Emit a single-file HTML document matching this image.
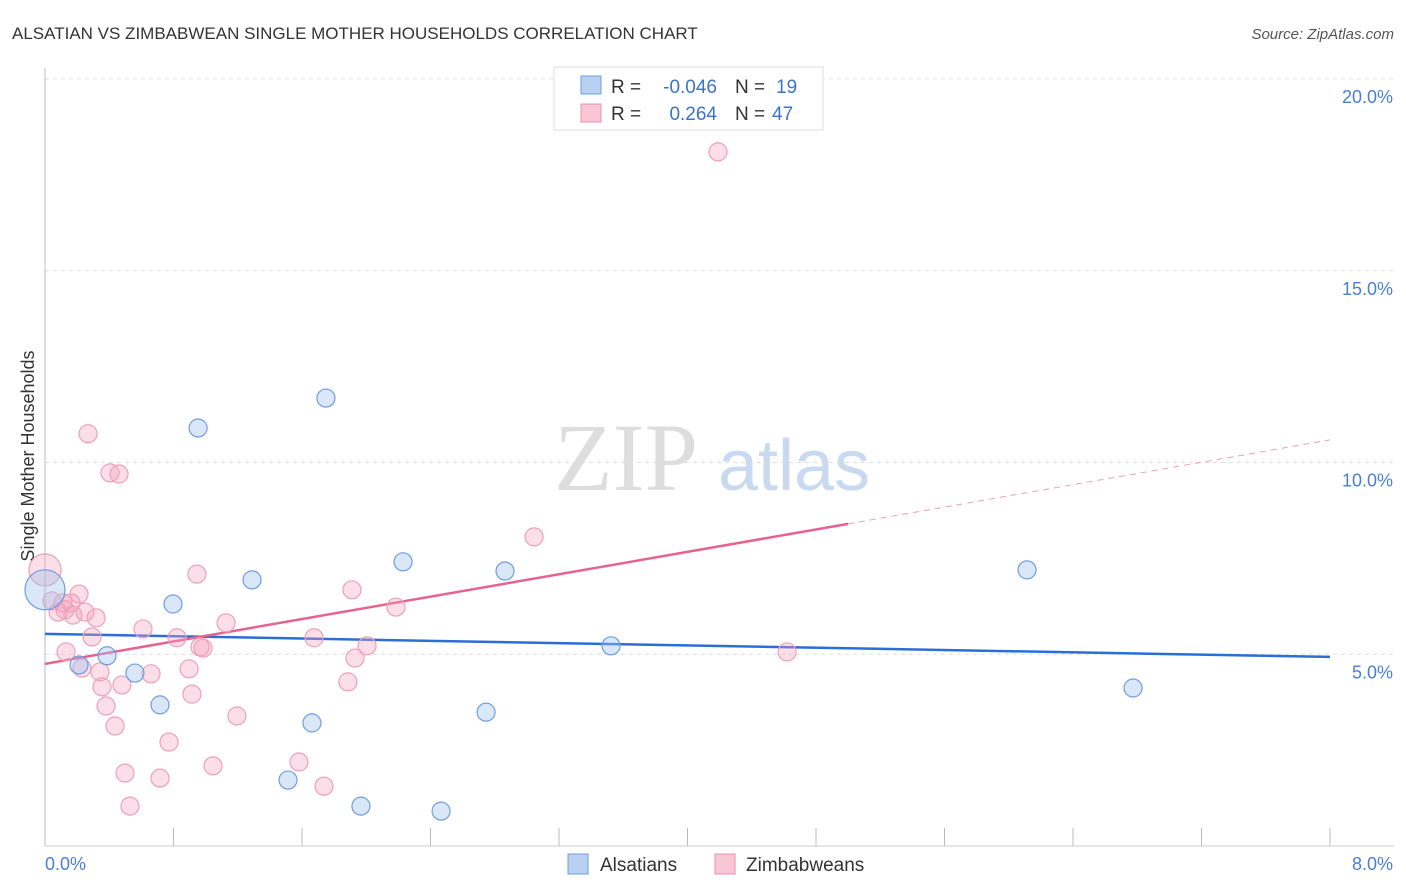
<!DOCTYPE html>
<html><head><meta charset="utf-8"><style>
body{margin:0;background:#fff;font-family:"Liberation Sans",sans-serif}
svg{display:block}
</style></head><body>
<svg width="1406" height="892" xmlns="http://www.w3.org/2000/svg">
<text x="12" y="39" font-size="17" fill="#333">ALSATIAN VS ZIMBABWEAN SINGLE MOTHER HOUSEHOLDS CORRELATION CHART</text>
<text x="1394" y="39" font-size="15" fill="#555" text-anchor="end" font-style="italic">Source: ZipAtlas.com</text>
<text x="554" y="490" font-size="96" fill="#ddd" font-family="Liberation Serif,serif">ZIP</text>
<text x="718" y="490" font-size="72" fill="#c9daf0">atlas</text>
<g id="grid"></g>
<g id="axes"></g>
<text transform="translate(34,456) rotate(-90)" font-size="18" fill="#333" text-anchor="middle">Single Mother Households</text>
<g id="lines"></g>
<g id="pts"></g>
<g>
<rect x="554" y="67" width="269" height="63" fill="#fff" stroke="#ddd"/>
<rect x="581" y="76" width="20" height="18" fill="#b8d0f2" stroke="#6f9de0"/>
<rect x="581" y="104" width="20" height="18" fill="#f9c6d5" stroke="#e891ad"/>
<text x="611" y="93" font-size="19" fill="#333">R =</text>
<text x="717" y="93" font-size="19" fill="#3a73cc" text-anchor="end">-0.046</text>
<text x="735" y="93" font-size="19" fill="#333">N =</text>
<text x="776" y="93" font-size="19" fill="#3a73cc">19</text>
<text x="611" y="120" font-size="19" fill="#333">R =</text>
<text x="717" y="120" font-size="19" fill="#3a73cc" text-anchor="end">0.264</text>
<text x="735" y="120" font-size="19" fill="#333">N =</text>
<text x="772" y="120" font-size="19" fill="#3a73cc">47</text>
</g>
<g>
<rect x="568" y="854" width="20" height="20" fill="#b8d0f2" stroke="#6f9de0"/>
<text x="600" y="871" font-size="19" fill="#333">Alsatians</text>
<rect x="715" y="854" width="20" height="20" fill="#f9c6d5" stroke="#e891ad"/>
<text x="746" y="871" font-size="19" fill="#333">Zimbabweans</text>
</g>
</svg>
<script>
const yTicks=[5,10,15,20];
const yTickLabels=["5.0%","10.0%","15.0%","20.0%"];
const blueX=[0,0.386,0.560,0.716,0.797,0.953,1.289,1.513,1.662,1.749,1.967,2.229,2.466,2.746,2.864,3.524,6.114,6.774,0.212];
const blueY=[6.68,4.96,4.51,3.68,6.31,10.90,6.94,1.72,3.21,11.68,1.04,7.41,0.91,3.49,7.17,5.22,7.20,4.12,4.72];
const blueR=[20,9,9,9,9,9,9,9,9,9,9,9,9,9,9,9,9,9,9];
const pinkX=[0,0.044,0.081,0.112,0.162,0.212,0.174,0.249,0.318,0.293,0.131,0.230,0.342,0.355,0.380,0.436,0.498,0.529,0.268,0.405,0.461,0.479,0.610,0.660,0.716,0.772,0.822,0.897,0.915,0.946,0.965,0.984,1.046,1.127,1.195,1.581,1.675,1.737,1.886,1.911,1.930,2.005,2.185,3.045,4.190,4.620,0.125];
const pinkY=[7.20,6.39,6.10,6.34,6.34,6.57,6.02,6.10,5.95,5.45,5.06,4.64,4.54,4.15,3.65,3.13,1.90,1.04,10.75,9.73,9.70,4.20,5.66,4.49,1.77,2.71,5.43,4.62,3.96,7.09,5.19,5.16,2.09,5.82,3.39,2.19,5.43,1.56,4.28,6.68,4.90,5.22,6.23,8.06,18.10,5.06,6.16];
const blueTrend=[5.53,4.93];
const pinkTrend=[4.75,10.59];
const pinkSolidEnd=5.0;
const NS="http://www.w3.org/2000/svg";
const X=v=>45+v/8*1285, Y=v=>846-v/20*767;
function mk(t,a,p){const e=document.createElementNS(NS,t);for(const k in a)e.setAttribute(k,a[k]);p.appendChild(e);return e;}
const grid=document.getElementById('grid'),axes=document.getElementById('axes');
yTicks.forEach((t,i)=>{
 const l=mk('line',{x1:45,x2:1394,y1:Y(t),y2:Y(t),stroke:'#ddd','stroke-dasharray':'4,4'},grid);
 
 
 const tx=mk('text',{x:1393,y:Y(t)+24,'font-size':18,fill:'#4a7fd4','text-anchor':'end'},axes);
 tx.textContent=yTickLabels[i];
 
 
});
mk('line',{x1:45,x2:45,y1:68,y2:846,stroke:'#bbb'},axes);
mk('line',{x1:45,x2:1394,y1:846,y2:846,stroke:'#ccc'},axes);
for(let i=0;i<=10;i++){const t=mk('line',{x1:X(i*0.8),x2:X(i*0.8),y1:828,y2:846,stroke:'#bbb'},axes);
 
 }
let a=mk('text',{x:45,y:870,'font-size':18,fill:'#4a7fd4'},axes);a.textContent='0.0%';


a=mk('text',{x:1393,y:870,'font-size':18,fill:'#4a7fd4','text-anchor':'end'},axes);a.textContent='8.0%';


const pts=document.getElementById('pts');
pinkX.forEach((x,i)=>{const c=mk('circle',{cx:X(x),cy:Y(pinkY[i]),r:i==0?16:9,fill:'rgba(244,160,188,0.35)',stroke:'#eda0b8','stroke-width':1.2},pts);
 
 });
blueX.forEach((x,i)=>{const c=mk('circle',{cx:X(x),cy:Y(blueY[i]),r:blueR[i],fill:'rgba(160,195,240,0.4)',stroke:'#6f9de0','stroke-width':1.2},pts);
 
 });
const lines=document.getElementById('lines');
const pv=x=>pinkTrend[0]+(pinkTrend[1]-pinkTrend[0])*x/8;
let l=mk('line',{x1:X(0),y1:Y(blueTrend[0]),x2:X(8),y2:Y(blueTrend[1]),stroke:'#2a6fd6','stroke-width':2.5},lines);


l=mk('line',{x1:X(0),y1:Y(pv(0)),x2:X(pinkSolidEnd),y2:Y(pv(pinkSolidEnd)),stroke:'#e8628f','stroke-width':2.5},lines);


l=mk('line',{x1:X(pinkSolidEnd),y1:Y(pv(pinkSolidEnd)),x2:X(8),y2:Y(pv(8)),stroke:'#e8a0b8','stroke-width':1,'stroke-dasharray':'6,5'},lines);


</script>
</body></html>
